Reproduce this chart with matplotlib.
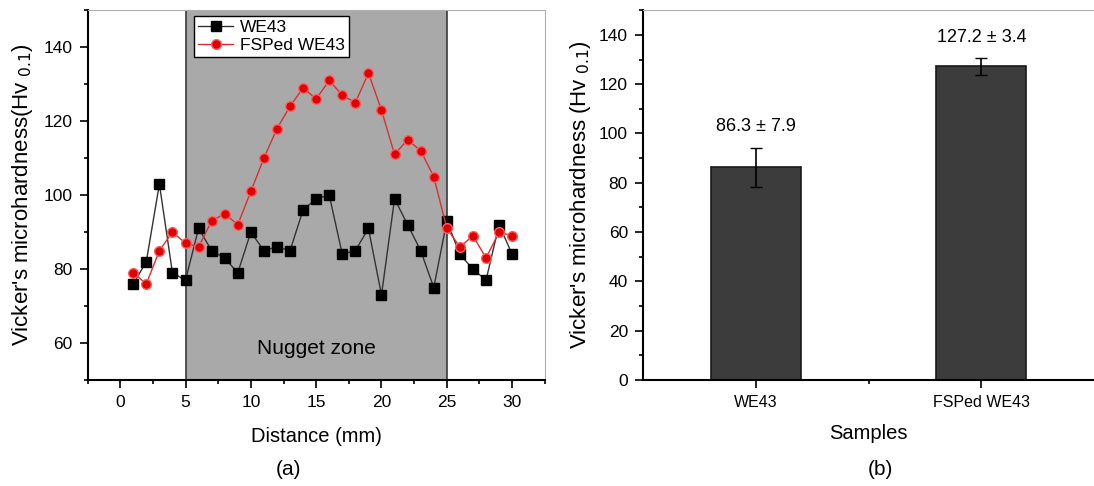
import numpy as np
import matplotlib.pyplot as plt
from matplotlib.ticker import MultipleLocator

plt.rcParams['font.family'] = ['Liberation Sans', 'DejaVu Sans']

# Dados ----------------------------->>>>>
distance = list(range(1, 31))
we43 = [76, 82, 103, 79, 77, 91, 85, 83, 79, 90, 85, 86, 85, 96, 99,
        100, 84, 85, 91, 73, 99, 92, 85, 75, 93, 84, 80, 77, 92, 84]
fsped = [79, 76, 85, 90, 87, 86, 93, 95, 92, 101, 110, 118, 124, 129, 126,
         131, 127, 125, 133, 123, 111, 115, 112, 105, 91, 86, 89, 83, 90, 89]
nugget = (5, 25)

samples = ['WE43', 'FSPed WE43']
mean_hv = [86.3, 127.2]
std_hv = [7.9, 3.4]

fig = plt.figure(figsize=(10.94, 4.86), dpi=100)

# (a) perfil de microdureza ----------------------------->>>>>
ax1 = fig.add_axes([0.080, 0.218, 0.418, 0.761])
ax1.axvspan(nugget[0], nugget[1], facecolor='#a9a9a9', edgecolor='#3a3a3a', lw=1.2, zorder=0)
ax1.plot(distance, we43, '-s', color='#333333', mfc='black', mec='black', ms=6.5, lw=1, label='WE43', zorder=3)
ax1.plot(distance, fsped, '-o', color='#d83030', mfc='#e00000', mec='#ff6060', ms=7, lw=1, label='FSPed WE43', zorder=4)
ax1.text(15, 58.5, 'Nugget zone', ha='center', va='center', fontsize=15)
ax1.set_xlim(-2.5, 32.5)
ax1.set_ylim(50, 150)
ax1.set_yticks([60, 80, 100, 120, 140])
ax1.set_xticks([0, 5, 10, 15, 20, 25, 30])
ax1.xaxis.set_minor_locator(MultipleLocator(2.5))
ax1.yaxis.set_minor_locator(MultipleLocator(10))
ax1.tick_params(which='both', direction='out', labelsize=12.5, width=1.2)
ax1.tick_params(which='major', length=6, pad=5)
ax1.tick_params(which='minor', length=3)
ax1.set_xlabel('Distance (mm)', fontsize=14.5, labelpad=12)
ax1.set_ylabel(r"Vicker's microhardness(Hv$_{\ 0.1}$)", fontsize=16, labelpad=6)
for s in ['left', 'bottom']:
    ax1.spines[s].set_linewidth(1.5)
for s in ['top', 'right']:
    ax1.spines[s].set_color('#b0b0b0')
leg = ax1.legend(loc='upper left', bbox_to_anchor=(0.225, 0.995), fontsize=12.5, fancybox=False,
                 edgecolor='black', framealpha=1, borderpad=0.25, labelspacing=0.15,
                 handlelength=2.0, handletextpad=0.4, borderaxespad=0.2)
leg.get_frame().set_linewidth(1)
fig.text(0.264, 0.022, '(a)', ha='center', fontsize=15)

# (b) media das amostras ----------------------------->>>>>
ax2 = fig.add_axes([0.588, 0.218, 0.412, 0.761])
pos = np.arange(1, len(samples) + 1)
ax2.bar(pos, mean_hv, width=0.4, color='#3c3c3c', edgecolor='#1a1a1a', lw=1.2, zorder=2)
ax2.errorbar(pos, mean_hv, yerr=std_hv, fmt='none', ecolor='black', elinewidth=1.2, capsize=4, zorder=3)
for p, m, e in zip(pos, mean_hv, std_hv):
    ax2.text(p, m + e + 5, f'{m} ± {e}', ha='center', va='bottom', fontsize=13)
ax2.set_xlim(0.5, 2.5)
ax2.set_ylim(0, 150)
ax2.set_xticks(pos)
ax2.set_xticklabels(samples, fontsize=11.5)
ax2.set_xticks([1.5], minor=True)
ax2.yaxis.set_minor_locator(MultipleLocator(10))
ax2.set_yticks(range(0, 141, 20))
ax2.tick_params(which='both', direction='out', width=1.2)
ax2.tick_params(axis='y', labelsize=12.5)
ax2.tick_params(which='major', length=6, pad=5)
ax2.tick_params(which='minor', length=3)
ax2.set_xlabel('Samples', fontsize=14.5, labelpad=10)
ax2.set_ylabel(r"Vicker's microhardness (Hv$_{\ 0.1}$)", fontsize=16, labelpad=4)
for s in ['left', 'bottom']:
    ax2.spines[s].set_linewidth(1.5)
ax2.spines['top'].set_color('#b0b0b0')
ax2.spines['right'].set_visible(False)
fig.text(0.805, 0.022, '(b)', ha='center', fontsize=15)

fig.savefig('out.png', dpi=100)
